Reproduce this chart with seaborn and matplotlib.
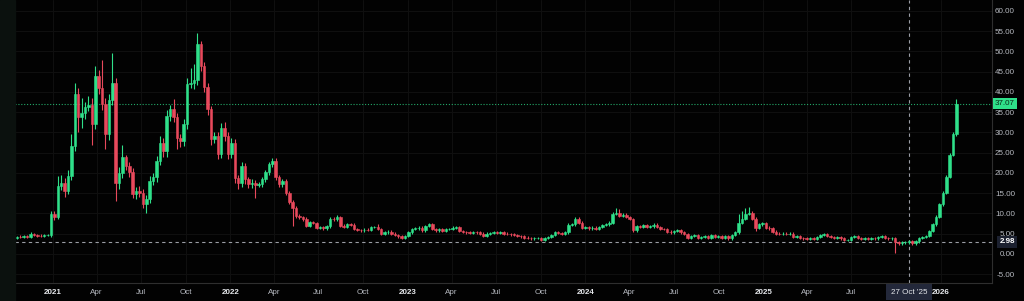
import numpy as np
import pandas as pd
import matplotlib
matplotlib.use("Agg")
import matplotlib.pyplot as plt
import matplotlib.dates as mdates
from matplotlib.patches import Rectangle
import seaborn as sns

# ---------------- data (weekly candles) ----------------
start_week = "2020-10-19"
first_open = 4.0
closes = [
    4.2, 4.1, 4.3, 4.2, 4.9, 4.7, 4.5, 4.4, 4.6, 4.6,
    9.9, 9.1, 16.8, 17.6, 15.6, 19.3, 26.7, 39.4, 33.7, 34.9,
    36.2, 36.8, 32.0, 43.9, 41.0, 37.0, 29.6, 38.0, 42.3, 17.6,
    20.0, 23.8, 21.7, 20.1, 14.7, 15.5, 15.1, 12.3, 13.5, 18.0,
    19.0, 23.0, 27.5, 25.4, 34.1, 35.7, 33.7, 28.7, 27.8, 32.0,
    41.9, 42.3, 43.0, 51.8, 46.4, 41.2, 35.7, 28.3, 29.1, 24.6,
    31.2, 29.1, 24.6, 27.5, 18.8, 17.6, 21.7, 18.4, 17.2, 17.6,
    17.0, 17.2, 18.4, 20.1, 22.1, 23.0, 18.9, 17.2, 18.0, 15.1,
    12.7, 11.4, 9.4, 9.0, 8.6, 7.0, 7.8, 7.6, 6.5, 6.6,
    6.3, 6.8, 8.6, 8.5, 9.0, 7.0, 6.7, 7.3, 7.2, 6.1,
    5.9, 5.8, 6.0, 5.9, 6.6, 6.7, 6.1, 5.0, 5.3, 5.5,
    5.0, 4.7, 4.3, 4.0, 4.4, 5.3, 6.1, 6.3, 6.5, 5.8,
    6.9, 7.3, 6.1, 5.8, 6.1, 5.7, 6.1, 6.2, 6.5, 6.7,
    5.7, 5.4, 5.3, 5.2, 5.35, 5.3, 5.0, 4.4, 5.0, 5.2,
    5.3, 5.2, 5.35, 5.0, 4.9, 4.8, 4.6, 4.4, 4.3, 4.0,
    3.9, 3.8, 3.9, 3.95, 3.5, 3.9, 4.2, 4.7, 5.3, 5.1,
    5.0, 5.3, 7.1, 7.3, 8.6, 7.7, 6.5, 6.7, 6.3, 6.5,
    6.2, 6.7, 7.1, 7.3, 7.7, 9.8, 10.0, 9.4, 9.6, 9.1,
    8.6, 5.8, 6.9, 6.7, 7.1, 6.7, 6.8, 7.2, 6.7, 6.2,
    6.1, 5.5, 5.3, 5.7, 5.8, 5.3, 4.9, 4.0, 4.4, 4.6,
    3.95, 4.2, 4.4, 3.95, 4.6, 4.2, 4.3, 3.95, 4.4, 3.8,
    4.7, 5.3, 7.7, 8.6, 9.8, 10.2, 8.6, 6.5, 7.3, 7.5,
    6.5, 6.3, 5.5, 5.0, 4.9, 5.0, 4.9, 5.0, 4.2, 4.4,
    3.95, 3.8, 3.6, 3.95, 3.7, 4.2, 4.7, 4.9, 4.4, 4.2,
    3.95, 4.2, 3.8, 3.4, 3.4, 4.2, 4.4, 3.95, 3.6, 3.95,
    3.7, 3.95, 3.8, 4.2, 4.4, 3.95, 3.8, 3.95, 2.85, 2.6,
    2.85, 2.85, 3.1, 2.6, 3.1, 3.95, 4.2, 4.4, 5.6, 7.3,
    9.2, 12.2, 15.1, 19.0, 24.4, 29.5, 37.07,
]
wick_up = [
    0.3, 0.4, 0.3, 0.3, 0.4, 0.3, 0.3, 0.3, 0.3, 0.3,
    0.8, 0.6, 2.5, 1.8, 1.2, 1.5, 2.8, 2.9, 1.5, 3.6,
    1.2, 2.2, 1.8, 2.5, 1.5, 7.0, 1.5, 1.5, 7.4, 1.2,
    1.5, 3.2, 0.7, 1.0, 1.2, 1.0, 1.2, 0.8, 1.0, 1.2,
    1.0, 1.2, 1.5, 1.2, 1.5, 1.0, 2.5, 1.2, 1.0, 1.2,
    1.5, 3.7, 4.0, 2.8, 0.7, 1.0, 1.0, 0.8, 1.0, 1.0,
    1.2, 1.3, 1.0, 1.0, 0.8, 0.6, 1.0, 0.8, 0.6, 0.8,
    0.6, 0.6, 0.6, 0.6, 0.6, 0.6, 0.6, 0.5, 0.6, 0.5,
    0.5, 0.5, 0.5, 0.4, 0.4, 0.4, 0.4, 0.3, 0.3, 0.3,
    0.3, 0.3, 0.4, 0.4, 0.6, 0.3, 0.3, 0.4, 0.3, 0.3,
    0.3, 0.3, 0.3, 0.3, 0.3, 0.3, 0.6, 0.3, 0.3, 0.3,
    0.3, 0.3, 0.3, 0.3, 0.3, 0.3, 0.3, 0.3, 0.3, 0.3,
    0.3, 0.4, 0.3, 0.3, 0.3, 0.3, 0.3, 0.3, 0.3, 0.3,
    0.3, 0.3, 0.3, 0.3, 0.3, 0.3, 0.3, 0.3, 0.3, 0.3,
    0.3, 0.3, 0.3, 0.3, 0.3, 0.3, 0.3, 0.3, 0.3, 0.3,
    0.3, 0.3, 0.3, 0.3, 0.3, 0.3, 0.3, 0.3, 0.3, 0.3,
    0.3, 0.3, 0.4, 0.4, 0.5, 0.5, 0.3, 0.3, 0.3, 0.3,
    0.3, 0.3, 0.3, 0.3, 0.4, 0.5, 1.4, 1.0, 0.4, 0.4,
    0.3, 0.3, 0.3, 0.3, 0.3, 0.3, 0.3, 0.3, 0.3, 0.3,
    0.3, 0.3, 0.3, 0.3, 0.3, 0.3, 0.3, 0.3, 0.3, 0.3,
    0.3, 0.3, 0.3, 0.3, 0.3, 0.3, 0.3, 0.3, 0.3, 0.3,
    0.3, 0.4, 2.1, 2.0, 1.6, 1.4, 0.5, 0.4, 0.4, 0.3,
    0.3, 0.3, 0.3, 0.3, 0.3, 0.3, 0.3, 0.3, 0.3, 0.3,
    0.3, 0.3, 0.3, 0.3, 0.3, 0.3, 0.3, 0.3, 0.3, 0.3,
    0.3, 0.3, 0.3, 0.3, 0.3, 0.3, 0.3, 0.3, 0.3, 0.3,
    0.3, 0.3, 0.3, 0.3, 0.3, 0.3, 0.3, 0.3, 0.3, 0.3,
    0.3, 0.3, 0.3, 0.3, 0.3, 0.3, 0.3, 0.3, 0.4, 0.4,
    0.4, 0.4, 0.5, 0.5, 0.6, 0.6, 1.1,
]
wick_dn = [
    0.3, 0.3, 0.3, 0.3, 0.3, 0.3, 0.3, 0.3, 0.3, 0.3,
    0.4, 0.8, 0.6, 1.0, 1.5, 0.8, 1.0, 1.2, 3.7, 2.7,
    1.5, 1.0, 5.0, 1.2, 1.5, 1.5, 3.6, 1.5, 1.2, 4.6,
    1.5, 1.2, 1.0, 1.2, 1.0, 1.2, 1.0, 1.0, 2.3, 1.0,
    1.0, 1.2, 1.0, 1.5, 1.5, 1.2, 1.2, 2.7, 1.5, 1.2,
    1.2, 1.0, 1.5, 1.2, 1.2, 1.2, 1.5, 1.5, 1.0, 1.2,
    1.0, 1.2, 1.2, 1.0, 1.2, 1.6, 1.0, 1.2, 1.0, 1.0,
    3.1, 0.6, 0.6, 0.6, 0.6, 0.6, 0.6, 0.6, 0.6, 0.6,
    0.5, 4.5, 0.5, 0.4, 0.4, 0.4, 0.4, 0.3, 0.3, 0.3,
    0.3, 0.3, 0.3, 0.3, 0.3, 0.3, 0.3, 0.3, 0.3, 0.3,
    0.3, 0.3, 0.3, 0.3, 0.3, 0.3, 0.3, 0.3, 0.3, 0.3,
    0.3, 0.3, 0.3, 0.3, 0.3, 0.3, 0.3, 0.3, 0.3, 0.3,
    0.3, 0.3, 0.3, 0.3, 0.3, 0.3, 0.3, 0.3, 0.3, 0.3,
    0.3, 0.3, 0.3, 0.3, 0.3, 0.3, 0.3, 0.3, 0.3, 0.3,
    0.3, 0.3, 0.3, 0.3, 0.3, 0.3, 0.3, 0.3, 0.3, 0.3,
    0.3, 0.3, 0.3, 0.3, 0.3, 0.3, 0.3, 0.3, 0.3, 0.3,
    0.3, 0.3, 0.3, 0.3, 0.3, 0.3, 0.3, 0.3, 0.3, 0.3,
    0.3, 0.3, 0.3, 0.3, 0.3, 0.3, 0.3, 0.3, 0.3, 0.3,
    0.3, 0.3, 0.3, 0.3, 0.3, 0.3, 0.3, 0.3, 0.3, 0.3,
    0.3, 0.3, 0.4, 0.3, 0.3, 0.3, 0.3, 0.3, 0.3, 0.3,
    0.3, 0.3, 0.3, 0.3, 0.3, 0.3, 0.3, 0.3, 0.3, 0.3,
    0.3, 0.3, 0.4, 0.3, 0.3, 0.3, 0.3, 0.8, 0.3, 0.3,
    0.3, 0.3, 0.3, 0.3, 0.3, 0.3, 0.3, 0.3, 0.3, 0.3,
    0.3, 0.3, 0.3, 0.3, 0.3, 0.3, 0.3, 0.3, 0.3, 0.3,
    0.3, 0.3, 0.3, 0.3, 0.3, 0.3, 0.3, 0.3, 0.3, 0.3,
    0.3, 0.3, 0.3, 0.3, 0.3, 0.3, 0.3, 0.3, 2.65, 0.3,
    0.3, 0.3, 0.3, 0.3, 0.3, 0.3, 0.3, 0.3, 0.3, 0.3,
    0.3, 0.3, 0.3, 0.3, 0.3, 0.3, 0.5,
]
yticks = [-5, 0, 5, 10, 15, 20, 25, 30, 35, 40, 45, 50, 55, 60]
xtick_dates = ["2021-01-01", "2021-04-01", "2021-07-01", "2021-10-01",
               "2022-01-01", "2022-04-01", "2022-07-01", "2022-10-01",
               "2023-01-01", "2023-04-01", "2023-07-01", "2023-10-01",
               "2024-01-01", "2024-04-01", "2024-07-01", "2024-10-01",
               "2025-01-01", "2025-04-01", "2025-07-01", "2026-01-01"]
xtick_labels = ["2021", "Apr", "Jul", "Oct", "2022", "Apr", "Jul", "Oct",
                "2023", "Apr", "Jul", "Oct", "2024", "Apr", "Jul", "Oct",
                "2025", "Apr", "Jul", "2026"]
last_price = 37.07
ref_price = 2.98
marker_date = "2025-10-27"
marker_label = "27 Oct '25"
x_range = ("2020-10-15", "2026-04-16")
y_range = (-7.2, 62.7)

# ---------------- frame ----------------
n = len(closes)
df = pd.DataFrame({
    "date": pd.date_range(start_week, periods=n, freq="W-MON"),
    "close": closes,
})
df["open"] = [first_open] + closes[:-1]
df["high"] = np.maximum(df["open"], df["close"]) + np.array(wick_up)
df["low"] = np.minimum(df["open"], df["close"]) - np.array(wick_dn)
df["up"] = df["close"] >= df["open"]

GREEN = "#2fe08a"
RED = "#e8495c"
BG = "#020202"
GRID = "#101010"
TXT = "#b8bbc2"

sns.set_theme(style="dark", rc={
    "axes.facecolor": BG, "figure.facecolor": BG,
    "axes.edgecolor": "#2b2b2b", "grid.color": GRID,
    "text.color": TXT, "xtick.color": TXT, "ytick.color": TXT,
})
plt.rcParams["font.family"] = ["Liberation Sans", "DejaVu Sans"]

fig = plt.figure(figsize=(10.24, 3.01), dpi=100)
ax = fig.add_axes([15 / 1024, 18 / 301, 977 / 1024, 283 / 301])
fig.patches.append(Rectangle((0, 0), 15 / 1024, 1, transform=fig.transFigure,
                             color="#0b110e", zorder=0))

colors = np.where(df["up"], GREEN, RED)
dnum = mdates.date2num(df["date"])
ax.vlines(dnum, df["low"], df["high"], colors=colors, linewidth=0.8, zorder=3)
ax.bar(dnum, (df["close"] - df["open"]).abs(), bottom=np.minimum(df["open"], df["close"]),
       width=5.2, color=colors, edgecolor=colors, linewidth=0.4, zorder=4)

# reference lines
ax.axhline(last_price, color=GREEN, lw=0.8, ls=(0, (1, 1.6)), alpha=0.75, zorder=2)
ax.axhline(ref_price, color="#9a9da5", lw=0.8, ls=(0, (3, 3)), zorder=2)
mdate = mdates.date2num(pd.Timestamp(marker_date))
ax.axvline(mdate, color="#9a9da5", lw=0.8, ls=(0, (3, 3)), zorder=2)

# axes
ax.set_xlim(mdates.date2num(pd.Timestamp(x_range[0])), mdates.date2num(pd.Timestamp(x_range[1])))
ax.set_ylim(*y_range)
ax.yaxis.tick_right()
ax.set_yticks(yticks)
ax.set_yticklabels([f"{v:.2f}" for v in yticks])
for lab in ax.get_yticklabels():
    lab.set_ha("right")
ax.tick_params(axis="y", length=0, pad=16.5, labelsize=5.8, colors=TXT)
xt = [mdates.date2num(pd.Timestamp(d)) for d in xtick_dates]
ax.set_xticks(xt)
ax.set_xticklabels(xtick_labels)
ax.tick_params(axis="x", length=0, pad=4.5, labelsize=5.8, colors=TXT)
for lab in ax.get_xticklabels():
    if lab.get_text().isdigit():
        lab.set_fontweight("bold")
        lab.set_color("#e6e8ec")
ax.grid(True, color=GRID, lw=0.7)
for s in ["top", "left"]:
    ax.spines[s].set_visible(False)
ax.spines["right"].set_color("#2e2e2e")
ax.spines["bottom"].set_color("#2e2e2e")
ax.spines["right"].set_linewidth(0.8)
ax.spines["bottom"].set_linewidth(0.8)

# price labels on the right axis
ytr = ax.get_yaxis_transform()
ax.text(1.0235, last_price, f"{last_price:.2f}", transform=ytr, ha="right", va="center",
        fontsize=5.8, color="#0a2a18", clip_on=False, zorder=6,
        bbox=dict(boxstyle="square,pad=0.25", fc=GREEN, ec="none"))
ax.text(1.0235, ref_price, f"{ref_price:.2f}", transform=ytr, ha="right", va="center",
        fontsize=5.8, color="#ffffff", fontweight="bold", clip_on=False, zorder=6,
        bbox=dict(boxstyle="square,pad=0.3", fc="#1c2130", ec="none"))

# marker date label on x axis
xtr = ax.get_xaxis_transform()
ax.text(mdate, -0.033, marker_label, transform=xtr, ha="center", va="center",
        fontsize=5.8, color="#e6e8ec", clip_on=False, zorder=6,
        bbox=dict(boxstyle="square,pad=0.55", fc="#23283a", ec="none"))

fig.savefig("out.png", dpi=100, facecolor=BG)
